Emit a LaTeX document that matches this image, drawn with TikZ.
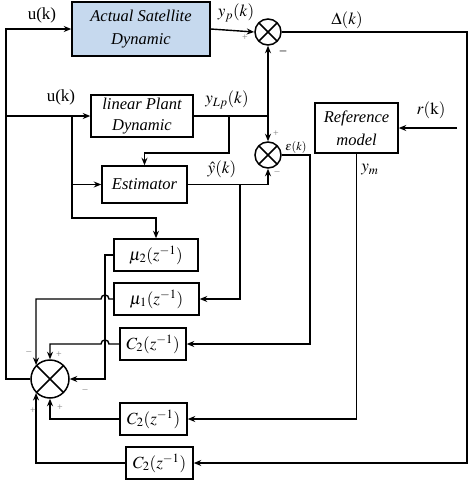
\documentclass[tikz,border=0pt]{standalone}
\usepackage{mathptmx}
\usepackage{fontspec}
\setmainfont{Liberation Serif}
\usetikzlibrary{arrows.meta,calc}

\definecolor{satblue}{RGB}{198,217,238}

\tikzset{
  blk/.style={draw, line width=1.5pt, minimum height=32pt, inner sep=0pt,
    font=\fontsize{16.5}{21}\selectfont\itshape, align=center},
  tfbox/.style={blk, font=\fontsize{17}{17}\selectfont},
  sumnode/.style={circle, draw, line width=1.5pt, inner sep=0pt,
    path picture={\draw (path picture bounding box.north west) -- (path picture bounding box.south east)
      (path picture bounding box.north east) -- (path picture bounding box.south west);}},
  sgn/.style={font=\fontsize{10}{10}\selectfont, text=gray, inner sep=0pt},
  lbl/.style={font=\fontsize{17}{17}\selectfont, inner sep=0pt},
}

\begin{document}
\begin{tikzpicture}[x=1pt, y=-1pt, line width=1.4pt, >={Stealth[length=7.5pt,width=6pt]}]
  \useasboundingbox (0,0) rectangle (474,485);

  % blocks
  \node[blk, fill=satblue, minimum width=138pt, minimum height=54pt] (sat) at (141,29) {Actual Satellite\\[2pt]Dynamic};
  \node[blk, minimum width=102pt, minimum height=42pt] (lin) at (142,116) {linear Plant\\Dynamic};
  \node[blk, minimum width=85pt, minimum height=37pt] (est) at (144.5,184.5) {Estimator};
  \node[blk, minimum width=83pt, minimum height=50pt] (ref) at (356.5,128) {Reference\\[2pt]model};
  \node[tfbox, minimum width=84pt] (mu2) at (156,255) {$\mu_2(z^{-1})$};
  \node[tfbox, minimum width=85pt] (mu1) at (156.5,299) {$\mu_1(z^{-1})$};
  \node[tfbox, minimum width=66pt] (c2a) at (153,344) {$C_2(z^{-1})$};
  \node[tfbox, minimum width=67pt] (c2b) at (153.5,419) {$C_2(z^{-1})$};
  \node[tfbox, minimum width=67pt] (c2c) at (159.5,463) {$C_2(z^{-1})$};

  % summing junctions
  \node[sumnode, minimum size=26pt] (sum1) at (268,32) {};
  \node[sumnode, minimum size=26pt] (sum2) at (268,155) {};
  \node[sumnode, minimum size=38pt] (sum3) at (50,379) {};

  % bends
  \coordinate (bus) at (6,29);
  \coordinate (ubr) at (72,116);
  \coordinate (mid) at (72,218);
  \coordinate (ylp) at (229,116);
  \coordinate (ylpd) at (229,153);
  \coordinate (yhb) at (240,184.5);
  \coordinate (epsx) at (310,155);
  \coordinate (delx) at (467,32);
  \coordinate (rin) at (457,128);
  \coordinate (hopx) at (105,255);

  % connectors
  \draw[->] (sum3.west) -| (bus) -- (sat.west);
  \draw[->] (bus |- lin.west) -- (lin.west);
  \draw[->] (ubr) |- (mu2.north |- mid) -- (mu2.north);
  \draw[->] (ubr |- est.west) -- (est.west);
  \draw[->] (sat.east) -- (sum1.west);
  \draw[->] (sum1.east) -- (delx) |- (c2c.east);
  \draw[->] (lin.east) -| (sum1.south);
  \draw[->] (sum1.south |- lin.east) -- (sum2.north);
  \draw[->] (ylp) -- (ylpd) -| (est.north);
  \draw[->] (est.east) -| (sum2.south);
  \draw[->] (yhb) |- (mu1.east);
  \draw[->] (sum2.east) -- (epsx) |- (c2a.east);
  \draw[->] (ref.south) |- (c2b.east);
  \draw[->] (rin) -- (ref.east);
  \draw[->] (mu2.west) -- (hopx) -- (hopx |- sum3.east) -- (sum3.east);
  \draw[->] (mu1.west) -- (109,299) .. controls (109,293.7) and (101,293.7) .. (101,299)
    -- (sum3.north west |- mu1.west) -- (sum3.north west);
  \draw[->] (c2a.west) -- (109,344) .. controls (109,338.7) and (101,338.7) .. (101,344) -| (sum3.north);
  \draw[->] (c2b.west) -| (sum3.south);
  \draw[->] (c2c.west) -| (sum3.south west);

  % signal labels
  \node[lbl] (u1) at (42,15) {u(k)};
  \node[lbl] (u2) at (61,97) {u(k)};
  \node[lbl] (yp) at (236,13) {$y_p(k)$};
  \node[lbl] (del) at (347,20) {$\Delta(k)$};
  \node[lbl] (ylpl) at (227,100) {$y_{Lp}(k)$};
  \node[lbl] (yhat) at (222,169) {$\hat{y}(k)$};
  \node[lbl, font=\fontsize{12}{12}\selectfont] (eps) at (296,147) {$\varepsilon(k)$};
  \node[lbl] (rk) at (431,110) {$r(\mathrm{k})$};
  \node[lbl] (ym) at (370,170) {$y_m$};

  % signs
  \node[sgn] (s1a) at (245,38) {+};
  \node[sgn, text=black, font=\fontsize{13}{13}\selectfont] (s1b) at (283,53) {--};
  \node[sgn] (s2a) at (276,134) {+};
  \node[sgn] (s2b) at (277,173) {--};
  \node[sgn] (s3a) at (29,353) {--};
  \node[sgn] (s3b) at (59,355) {+};
  \node[sgn] (s3c) at (85,391) {--};
  \node[sgn] (s3d) at (33,411) {+};
  \node[sgn] (s3e) at (60,408) {+};
\end{tikzpicture}
\end{document}
